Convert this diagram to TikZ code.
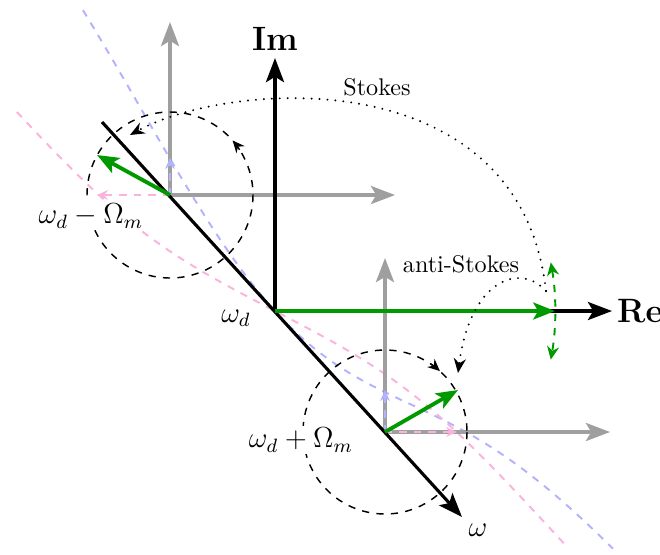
\documentclass[tikz,border=0pt]{standalone}
\usetikzlibrary{arrows.meta}
\begin{document}
\begin{tikzpicture}[x=0.01457cm,y=-0.01457cm,
  bigtip/.style={-{Stealth[length=10pt,width=7.5pt,inset=2.2pt]}},
  axisline/.style={line width=1.3pt,bigtip},
  gaxis/.style={axisline,draw=gray!75},
  phasor/.style={line width=1.6pt,draw=green!60!black,-{Stealth[length=9pt,width=7pt,inset=2pt]}},
  smalltip/.style={-{Stealth[length=4.5pt,width=4pt]}},
  lightim/.style={thick,dashed,draw=blue!30},
  lightre/.style={thick,dashed,draw=magenta!30},
  orbit/.style={semithick,dashed},
  dots/.style={line width=0.9pt,dash pattern=on 0pt off 3.3pt,line cap=round},
  lab/.style={font=\large,fill=white,inner sep=1pt},
  axlab/.style={font=\fontsize{14}{17}\selectfont\bfseries},
]
\useasboundingbox (0,0) rectangle (660,554);
% key points
\coordinate (O) at (275,311);
\coordinate (L) at (170,195);
\coordinate (U) at (385,432);
\coordinate (Ltop) at (170,22);
\coordinate (Lright) at (395,195);
\coordinate (Utop) at (385,258);
\coordinate (Uright) at (610,432);
\coordinate (Imtip) at (275,58);
\coordinate (Retip) at (612,311);
\coordinate (wstart) at (102,122);
\coordinate (wtip) at (462,517);
\coordinate (Gtip) at (555,311);
\coordinate (Lg) at (97,155);
\coordinate (Ug) at (458,390);
\coordinate (Lb) at (170,158);
\coordinate (Lp) at (97,195);
\coordinate (Ub) at (385,390);
\coordinate (Up) at (457,432);
\coordinate (sS) at (546,291);
\coordinate (sE) at (130,135);
\coordinate (aE) at (458,373);

% light dashed curves
\draw[lightim] plot[domain=-192:338,samples=90,smooth] ({275+\x},{311+1.1*\x-140*(1-exp(-(\x/190)*(\x/190)))});
\draw[lightre] plot[domain=-181:215,samples=90,smooth] ({275+\x+78*tanh(\x/70)},{311+1.1*\x});

% gray sideband axes
\draw[gaxis] (L) -- (Ltop);
\draw[gaxis] (L) -- (Lright);
\draw[gaxis] (U) -- (Utop);
\draw[gaxis] (U) -- (Uright);

% light component arrows
\draw[lightim,smalltip] (L) -- (Lb);
\draw[lightre,smalltip] (L) -- (Lp);
\draw[lightim,smalltip] (U) -- (Ub);
\draw[lightre,smalltip] (U) -- (Up);

% orbits
\draw[orbit] (L) circle[radius=83];
\draw[orbit] (U) circle[radius=82];
\draw[semithick,-{Stealth[length=5pt,width=4.5pt]}] (L) ++(-33:83) arc[start angle=-33,end angle=-41,radius=83];
\draw[semithick,-{Stealth[length=5pt,width=4.5pt]}] (U) ++(-56:82) arc[start angle=-56,end angle=-48,radius=82];

% main axes
\draw[axisline] (O) -- (Imtip);
\draw[axisline] (O) -- (Retip);
\draw[axisline] (wstart) -- (wtip);

% phasors
\draw[phasor] (O) -- (Gtip);
\draw[phasor] (L) -- (Lg);
\draw[phasor] (U) -- (Ug);
\draw[thick,dashed,green!60!black,{Stealth[length=5.5pt,width=5pt]}-{Stealth[length=5.5pt,width=5pt]}]
  (O) ++(-10:280) arc[start angle=-10,end angle=10,radius=280];

% Stokes / anti-Stokes transfers
\draw[dots,-{Stealth[length=6pt,width=5pt]}] (sS) .. controls (520,60) and (230,80) .. (sE);
\draw[dots,-{Stealth[length=6pt,width=5pt]}] (sS) .. controls (520,262) and (470,280) .. (aE);

% labels
\node[axlab] (Im) at (275,39) {Im};
\node[axlab] (Re) at (640,311) {Re};
\node (stokes) at (377,87) {Stokes};
\node (astokes) at (461,264) {anti-Stokes};
\node[lab] (lm) at (91,216) {$\omega_d-\Omega_m$};
\node[lab] (wd) at (236,318) {$\omega_d$};
\node[lab] (lp) at (301,440) {$\omega_d+\Omega_m$};
\node[font=\large] (w) at (478,530) {$\omega$};
\end{tikzpicture}
\end{document}
